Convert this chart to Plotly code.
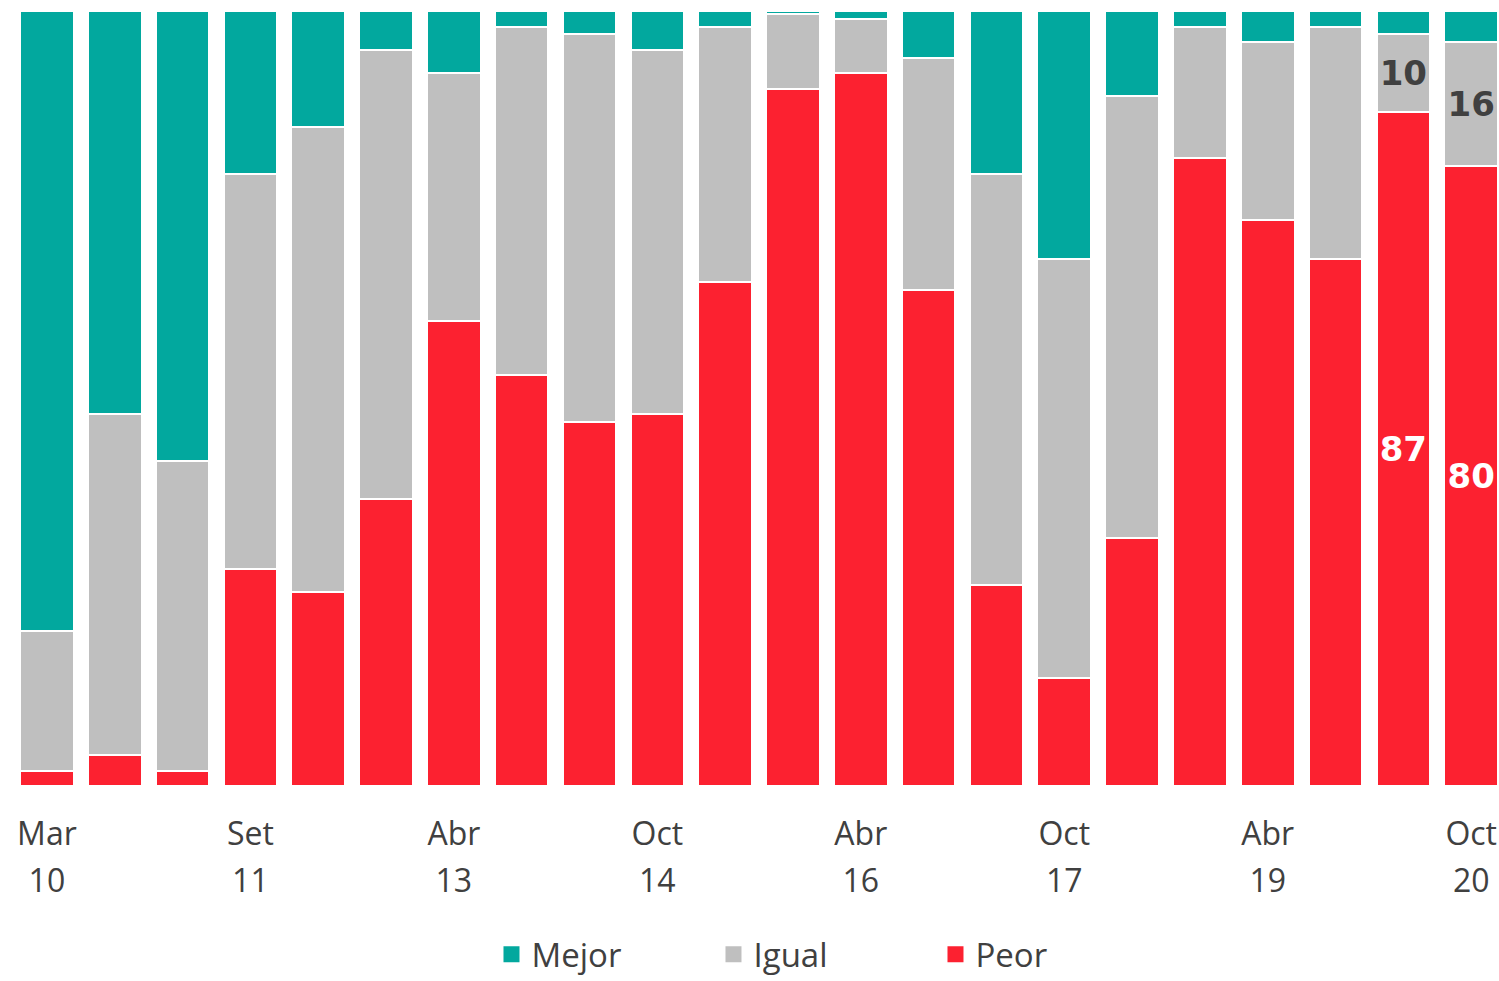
import plotly.graph_objects as go

periods = ["Mar 10", "Set 10", "Mar 11", "Set 11", "Abr 12", "Oct 12", "Abr 13", "Oct 13",
           "Abr 14", "Oct 14", "Abr 15", "Oct 15", "Abr 16", "Oct 16", "Abr 17", "Oct 17",
           "Abr 18", "Oct 18", "Abr 19", "Oct 19", "Abr 20", "Oct 20"]
peor = [2, 4, 2, 28, 25, 37, 60, 53, 47, 48, 65, 90, 92, 64, 26, 14, 32, 81, 73, 68, 87, 80]
igual = [18, 44, 40, 51, 60, 58, 32, 45, 50, 47, 33, 9.6, 7, 30, 53, 54, 57, 17, 23, 30, 10, 16]
mejor = [80, 52, 58, 21, 15, 5, 8, 2, 3, 5, 2, 0.4, 1, 6, 21, 32, 11, 2, 4, 2, 3, 4]
labeled = ["Abr 20", "Oct 20"]
tick_periods = ["Mar 10", "Set 11", "Abr 13", "Oct 14", "Abr 16", "Oct 17", "Abr 19", "Oct 20"]

C_MEJOR = "#02A89E"
C_IGUAL = "#BFBFBF"
C_PEOR = "#FC2130"
TXT = "#404040"

x = list(range(len(periods)))

def labels(vals):
    return [(f"{v:g}" if periods[i] in labeled else "") for i, v in enumerate(vals)]

fig = go.Figure()
series = [("Peor", peor, C_PEOR, "white"), ("Igual", igual, C_IGUAL, TXT), ("Mejor", mejor, C_MEJOR, TXT)]
for name, vals, col, tc in series:
    fig.add_trace(go.Bar(
        x=x, y=vals, name=name, marker=dict(color=col, line=dict(color="white", width=2)),
        text=labels(vals) if name != "Mejor" else None,
        textposition="inside", insidetextanchor="middle", textangle=0,
        textfont=dict(family="DejaVu Sans", size=34, color=tc, weight="bold"),
        showlegend=False, hoverinfo="skip",
    ))

for name, vals, col, tc in reversed(series):
    fig.add_trace(go.Scatter(
        x=[None], y=[None], mode="markers", name=name,
        marker=dict(symbol="square", size=18, color=col),
    ))

# invisible helper trace so the second (year) axis is drawn
fig.add_trace(go.Scatter(x=[None], y=[None], xaxis="x2", showlegend=False, hoverinfo="skip"))

tick_pos = [periods.index(p) for p in tick_periods]
fig.update_layout(
    barmode="stack", bargap=0.21,
    width=1499, height=981,
    margin=dict(l=13, r=0, t=11, b=195, autoexpand=False),
    plot_bgcolor="white", paper_bgcolor="white",
    font=dict(family="Open Sans", color=TXT),
    legend=dict(orientation="h", x=0.322, xanchor="left", y=-0.217, yanchor="middle",
                traceorder="normal", font=dict(size=33, color=TXT, family="Open Sans"),
                entrywidth=177, itemsizing="trace"),
    xaxis=dict(
        range=[-0.5, 21.41], showgrid=False, zeroline=False, showline=False,
        tickmode="array", tickvals=tick_pos,
        ticktext=[p.split(" ")[0] for p in tick_periods],
        tickfont=dict(size=32, color=TXT, family="Open Sans"), ticks="", ticklabelstandoff=26,
    ),
    xaxis2=dict(
        overlaying="x", side="bottom", matches="x", anchor="y",
        showgrid=False, zeroline=False, showline=False,
        tickmode="array", tickvals=tick_pos,
        ticktext=[p.split(" ")[1] for p in tick_periods],
        tickfont=dict(size=32, color=TXT, family="Open Sans"), ticks="", ticklabelstandoff=73,
    ),
    yaxis=dict(range=[0, 100], visible=False),
)

fig.write_html("out.html", config={"displayModeBar": False},
               post_script="document.body.style.margin='0';document.body.style.overflow='hidden';")
